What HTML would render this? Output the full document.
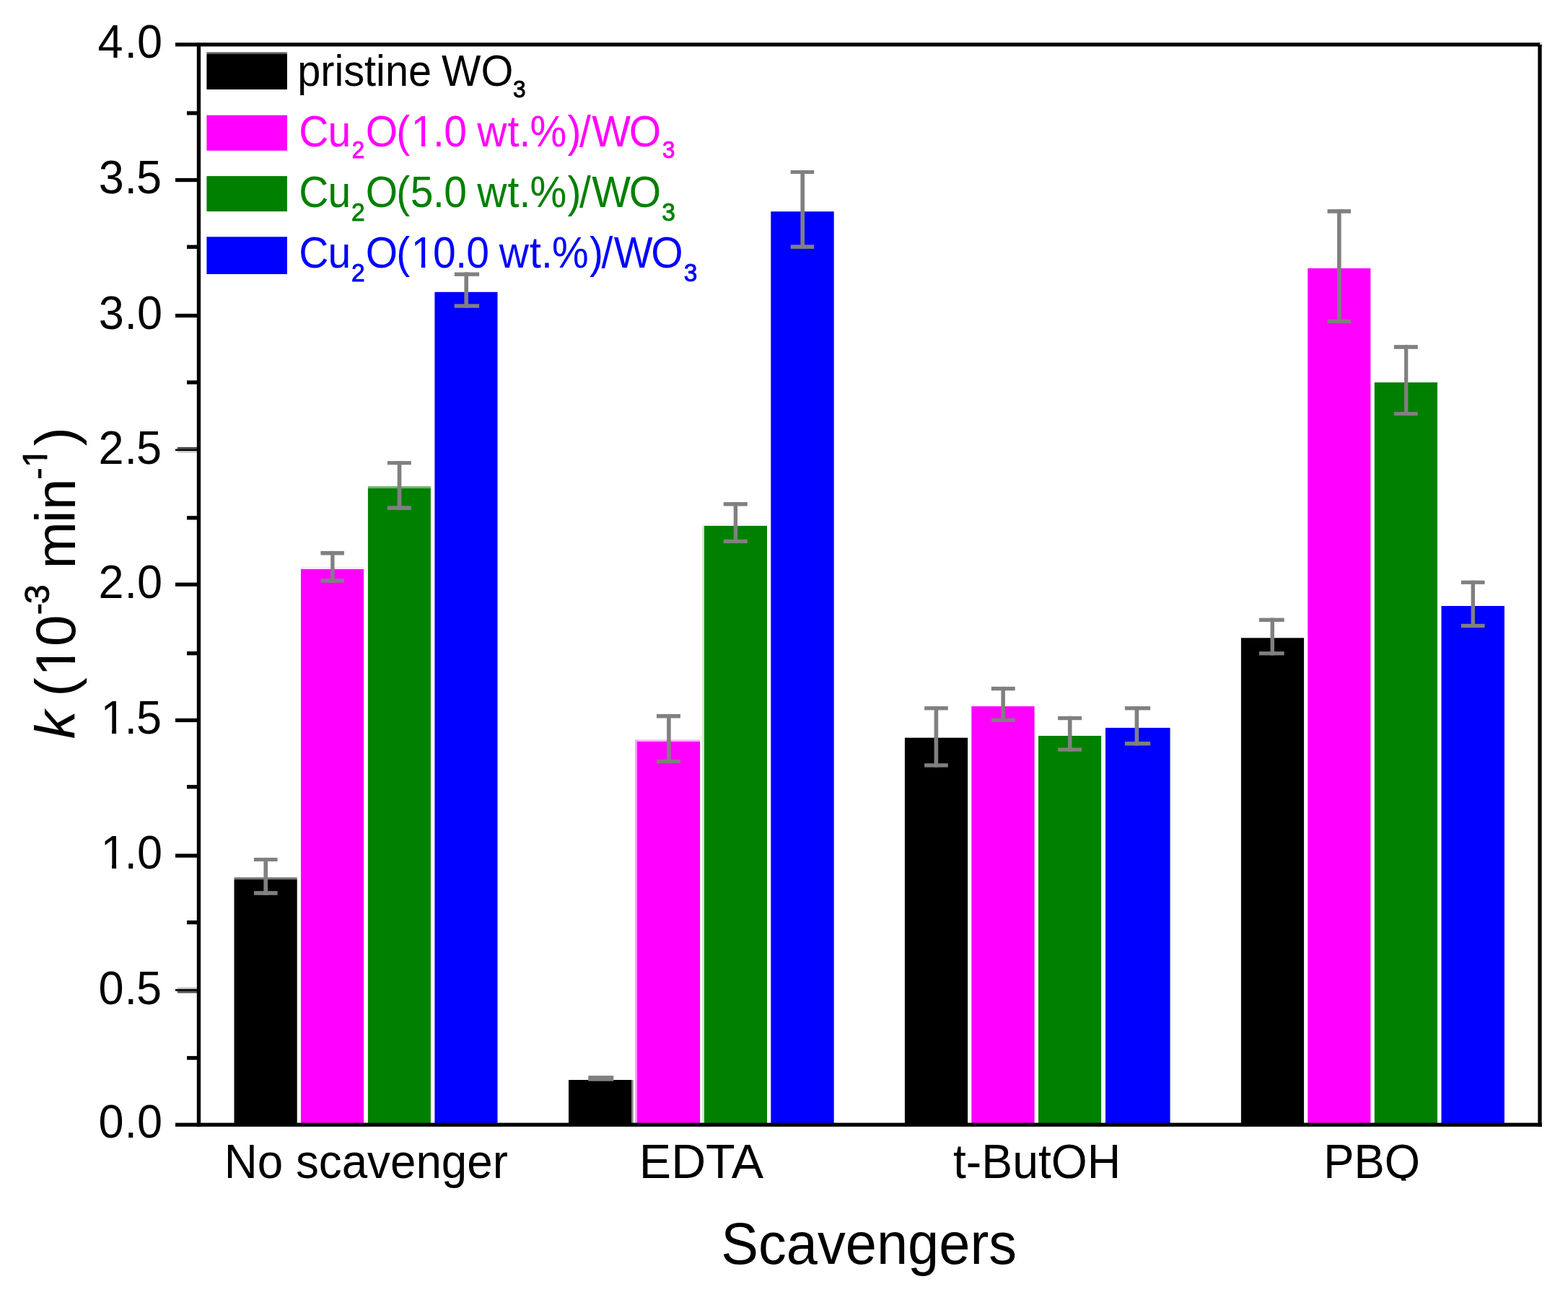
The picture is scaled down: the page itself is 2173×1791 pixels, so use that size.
<!DOCTYPE html>
<html lang="en">
<head>
<meta charset="utf-8">
<title>Scavengers – rate constants</title>
<style>
html,body{margin:0;padding:0;background:#fff;}
body{width:2173px;height:1791px;overflow:hidden;}
svg{display:block;}
text{font-family:"Liberation Sans",sans-serif;}
</style>
</head>
<body>
<svg width="2173" height="1791" viewBox="0 0 2173 1791">
<rect x="0" y="0" width="2173" height="1791" fill="#ffffff"/>

<g id="bars">
<rect x="324.5" y="1219.1" width="87.2" height="340.1" fill="#000000"/>
<rect x="417.0" y="789.0" width="87.1" height="770.2" fill="#ff00ff"/>
<rect x="509.9" y="676.9" width="87.0" height="882.3" fill="#008000"/>
<rect x="602.4" y="404.8" width="87.1" height="1154.4" fill="#0000ff"/>
<rect x="788.0" y="1497.0" width="87.0" height="62.2" fill="#000000"/>
<rect x="882.8" y="1028.0" width="87.3" height="531.2" fill="#ff00ff"/>
<rect x="975.7" y="728.8" width="87.3" height="830.4" fill="#008000"/>
<rect x="1068.3" y="293.2" width="87.4" height="1266.0" fill="#0000ff"/>
<rect x="1253.9" y="1022.7" width="87.2" height="536.5" fill="#000000"/>
<rect x="1346.3" y="979.1" width="87.3" height="580.1" fill="#ff00ff"/>
<rect x="1439.0" y="1020.0" width="87.1" height="539.2" fill="#008000"/>
<rect x="1532.0" y="1008.9" width="89.6" height="550.3" fill="#0000ff"/>
<rect x="1719.9" y="884.3" width="87.2" height="674.9" fill="#000000"/>
<rect x="1812.3" y="371.9" width="87.1" height="1187.3" fill="#ff00ff"/>
<rect x="1904.8" y="530.1" width="87.2" height="1029.1" fill="#008000"/>
<rect x="1997.5" y="840.0" width="87.4" height="719.2" fill="#0000ff"/>
<rect x="324.5" y="1216.2" width="87.2" height="2.9" fill="#787878"/>
<rect x="417.0" y="786.0" width="87.1" height="3.0" fill="#ffe6ff"/>
<rect x="509.9" y="674.1" width="87.0" height="2.8" fill="#66b366"/>
<rect x="875.0" y="1497.0" width="2.6" height="62.2" fill="#808080"/>
<rect x="880.2" y="1025.4" width="2.6" height="533.8" fill="#ff90ff"/>
<rect x="882.8" y="1025.4" width="87.3" height="2.6" fill="#ffb0ff"/>
<rect x="973.1" y="728.8" width="2.6" height="830.4" fill="#d0e8d0"/>
<rect x="973.1" y="726.3" width="89.9" height="2.5" fill="#eef6ee"/>
<rect x="286.4" y="72.3" width="111.5" height="2.7" fill="#606060"/>
</g>
<g id="errorbars">
<rect x="351.9" y="1189.0" width="32.7" height="5.1" fill="#808080"/>
<rect x="351.9" y="1235.2" width="32.7" height="5.6" fill="#808080"/>
<rect x="365.4" y="1189.0" width="5.6" height="51.8" fill="#808080"/>
<rect x="444.4" y="763.9" width="32.5" height="5.6" fill="#808080"/>
<rect x="444.4" y="802.2" width="32.5" height="5.6" fill="#808080"/>
<rect x="458.2" y="763.9" width="5.3" height="43.9" fill="#808080"/>
<rect x="536.9" y="639.1" width="32.9" height="5.2" fill="#808080"/>
<rect x="536.9" y="701.3" width="32.9" height="5.6" fill="#808080"/>
<rect x="550.7" y="639.1" width="5.6" height="67.8" fill="#808080"/>
<rect x="629.8" y="377.5" width="34.3" height="5.4" fill="#808080"/>
<rect x="629.8" y="421.4" width="34.3" height="5.4" fill="#808080"/>
<rect x="643.4" y="377.5" width="5.6" height="49.3" fill="#808080"/>
<rect x="815.2" y="1491.1" width="35.1" height="7.6" fill="#808080"/>
<rect x="910.0" y="989.9" width="32.9" height="5.6" fill="#808080"/>
<rect x="910.0" y="1052.9" width="32.9" height="5.2" fill="#808080"/>
<rect x="924.1" y="989.9" width="5.6" height="68.2" fill="#808080"/>
<rect x="1002.7" y="696.1" width="33.1" height="5.4" fill="#808080"/>
<rect x="1002.7" y="747.8" width="33.1" height="5.3" fill="#808080"/>
<rect x="1016.7" y="696.1" width="5.4" height="57.0" fill="#808080"/>
<rect x="1095.7" y="236.0" width="32.5" height="5.1" fill="#808080"/>
<rect x="1095.7" y="339.3" width="32.5" height="5.6" fill="#808080"/>
<rect x="1109.4" y="236.0" width="5.6" height="108.9" fill="#808080"/>
<rect x="1281.1" y="979.1" width="32.7" height="5.3" fill="#808080"/>
<rect x="1281.1" y="1058.2" width="32.7" height="5.4" fill="#808080"/>
<rect x="1294.6" y="979.1" width="5.6" height="84.5" fill="#808080"/>
<rect x="1373.8" y="951.9" width="32.9" height="5.4" fill="#808080"/>
<rect x="1373.8" y="995.6" width="32.9" height="5.2" fill="#808080"/>
<rect x="1387.4" y="951.9" width="5.5" height="48.9" fill="#808080"/>
<rect x="1466.1" y="992.8" width="32.9" height="5.4" fill="#808080"/>
<rect x="1466.1" y="1036.5" width="32.9" height="5.2" fill="#808080"/>
<rect x="1479.9" y="992.8" width="5.6" height="48.9" fill="#808080"/>
<rect x="1558.9" y="979.1" width="35.3" height="5.3" fill="#808080"/>
<rect x="1558.9" y="1028.1" width="35.3" height="5.4" fill="#808080"/>
<rect x="1572.6" y="979.1" width="5.6" height="54.4" fill="#808080"/>
<rect x="1745.0" y="856.6" width="34.7" height="5.4" fill="#808080"/>
<rect x="1745.0" y="903.1" width="34.7" height="5.3" fill="#808080"/>
<rect x="1760.6" y="856.6" width="5.4" height="51.8" fill="#808080"/>
<rect x="1839.6" y="290.1" width="32.5" height="5.6" fill="#808080"/>
<rect x="1839.6" y="442.9" width="32.5" height="5.2" fill="#808080"/>
<rect x="1853.1" y="290.1" width="5.6" height="158.0" fill="#808080"/>
<rect x="1931.9" y="478.2" width="32.9" height="5.6" fill="#808080"/>
<rect x="1931.9" y="571.0" width="32.9" height="5.1" fill="#808080"/>
<rect x="1946.1" y="478.2" width="5.2" height="97.9" fill="#808080"/>
<rect x="2024.9" y="804.7" width="32.7" height="5.2" fill="#808080"/>
<rect x="2024.9" y="864.8" width="32.7" height="5.3" fill="#808080"/>
<rect x="2038.6" y="804.7" width="5.4" height="65.4" fill="#808080"/>
</g>
<g id="frame">
<rect x="259.0" y="1463.9" width="16.4" height="5.3" fill="#000"/>
<rect x="246.0" y="1368.6" width="29.4" height="2.5" fill="#c4c4c4"/>
<rect x="243.0" y="1371.1" width="32.4" height="2.8" fill="#000"/>
<rect x="246.0" y="1373.9" width="29.4" height="2.8" fill="#585858"/>
<rect x="259.0" y="1276.0" width="16.4" height="5.3" fill="#000"/>
<rect x="243.0" y="1183.5" width="32.4" height="5.3" fill="#000"/>
<rect x="259.0" y="1088.1" width="16.4" height="5.3" fill="#000"/>
<rect x="243.0" y="995.8" width="32.4" height="5.3" fill="#000"/>
<rect x="259.0" y="903.0" width="16.4" height="5.3" fill="#000"/>
<rect x="243.0" y="807.6" width="32.4" height="5.3" fill="#000"/>
<rect x="259.0" y="715.2" width="16.4" height="5.3" fill="#000"/>
<rect x="246.0" y="619.8" width="29.4" height="2.6" fill="#444444"/>
<rect x="243.0" y="622.4" width="32.4" height="2.7" fill="#000"/>
<rect x="246.0" y="625.1" width="29.4" height="2.5" fill="#c8c8c8"/>
<rect x="259.0" y="527.4" width="16.4" height="5.3" fill="#000"/>
<rect x="243.0" y="434.9" width="32.4" height="5.3" fill="#000"/>
<rect x="259.0" y="339.6" width="16.4" height="5.3" fill="#000"/>
<rect x="243.0" y="246.9" width="32.4" height="5.3" fill="#000"/>
<rect x="259.0" y="154.2" width="16.4" height="5.3" fill="#000"/>
<rect x="243.0" y="59.1" width="1893.7" height="5.3" fill="#000"/>
<rect x="243.0" y="1556.5" width="1893.7" height="5.3" fill="#000"/>
<rect x="272.8" y="59.1" width="5.3" height="1502.8" fill="#000"/>
<rect x="2131.3" y="59.1" width="5.3" height="1502.8" fill="#000"/>
<rect x="2134.0" y="58.8" width="3.0" height="3.2" fill="#cfcfcf"/>
</g>
<g id="legend">
<rect x="286.4" y="75.0" width="111.5" height="49.0" fill="#000000"/>
<rect x="286.4" y="159.7" width="111.5" height="49.1" fill="#ff00ff"/>
<rect x="286.4" y="244.1" width="111.5" height="49.0" fill="#008000"/>
<rect x="286.4" y="328.3" width="111.5" height="51.7" fill="#0000ff"/>
<g transform="translate(0,118.5) scale(0.9450,1)"><text font-size="61" fill="#000000"><tspan x="436.25" y="0.0">pristine</tspan><tspan> </tspan><tspan x="647.65" y="0.0">WO</tspan><tspan x="752.39" y="16.0" font-size="33.4" stroke="#000000" stroke-width="1.0">3</tspan></text></g>
<g transform="translate(0,202.7) scale(0.9350,1)"><text font-size="61" fill="#ff00ff"><tspan x="442.95" y="0.0">C</tspan><tspan x="486.12" y="0.0">u</tspan><tspan x="521.54" y="16.0" font-size="33.4" stroke="#ff00ff" stroke-width="1.0">2</tspan><tspan x="541.87" y="0.0">O</tspan><tspan x="587.32" y="0.0">(</tspan><tspan x="609.33" y="0.0">1</tspan><tspan x="641.64" y="0.0">.</tspan><tspan x="658.06" y="0.0">0</tspan><tspan> </tspan><tspan x="707.14" y="0.0">w</tspan><tspan x="752.31" y="0.0">t</tspan><tspan x="769.60" y="0.0">.</tspan><tspan x="785.46" y="0.0">%</tspan><tspan x="841.22" y="0.0">)</tspan><tspan x="858.85" y="0.0">/</tspan><tspan x="877.34" y="0.0">W</tspan><tspan x="932.30" y="0.0">O</tspan><tspan x="981.83" y="16.0" font-size="33.4" stroke="#ff00ff" stroke-width="1.0">3</tspan></text><rect x="611.77" y="-7.32" width="12.63" height="9.15" fill="#fff"/><rect x="630.25" y="-7.32" width="11.59" height="9.15" fill="#fff"/></g>
<g transform="translate(0,287.0) scale(0.9350,1)"><text font-size="61" fill="#008000"><tspan x="442.95" y="0.0">C</tspan><tspan x="486.12" y="0.0">u</tspan><tspan x="520.85" y="18.6" font-size="35.9" stroke="#008000" stroke-width="1.0">2</tspan><tspan x="541.87" y="0.0">O</tspan><tspan x="587.32" y="0.0">(</tspan><tspan x="608.18" y="0.0">5</tspan><tspan x="641.64" y="0.0">.</tspan><tspan x="658.06" y="0.0">0</tspan><tspan> </tspan><tspan x="707.14" y="0.0">w</tspan><tspan x="752.31" y="0.0">t</tspan><tspan x="769.60" y="0.0">.</tspan><tspan x="785.46" y="0.0">%</tspan><tspan x="841.22" y="0.0">)</tspan><tspan x="858.85" y="0.0">/</tspan><tspan x="877.34" y="0.0">W</tspan><tspan x="932.30" y="0.0">O</tspan><tspan x="981.16" y="18.6" font-size="35.9" stroke="#008000" stroke-width="1.0">3</tspan></text></g>
<g transform="translate(0,371.2) scale(0.9350,1)"><text font-size="61" fill="#0000ff"><tspan x="442.95" y="0.0">C</tspan><tspan x="486.12" y="0.0">u</tspan><tspan x="520.85" y="18.6" font-size="35.9" stroke="#0000ff" stroke-width="1.0">2</tspan><tspan x="541.87" y="0.0">O</tspan><tspan x="587.32" y="0.0">(</tspan><tspan x="609.33" y="0.0">1</tspan><tspan x="641.81" y="0.0">0</tspan><tspan x="675.27" y="0.0">.</tspan><tspan x="691.22" y="0.0">0</tspan><tspan> </tspan><tspan x="739.76" y="0.0">w</tspan><tspan x="784.93" y="0.0">t</tspan><tspan x="802.23" y="0.0">.</tspan><tspan x="818.08" y="0.0">%</tspan><tspan x="873.84" y="0.0">)</tspan><tspan x="891.47" y="0.0">/</tspan><tspan x="909.96" y="0.0">W</tspan><tspan x="964.92" y="0.0">O</tspan><tspan x="1013.78" y="18.6" font-size="35.9" stroke="#0000ff" stroke-width="1.0">3</tspan></text><rect x="611.77" y="-7.32" width="12.63" height="9.15" fill="#fff"/><rect x="630.25" y="-7.32" width="11.59" height="9.15" fill="#fff"/></g>
</g>
<g id="yticks">
<g transform="translate(0,1577.1) scale(0.9700,1)"><text font-size="65" fill="#000"><tspan x="140.81" y="0.0">0</tspan><tspan x="177.95" y="0.0">.</tspan><tspan x="195.86" y="0.0">0</tspan></text></g>
<g transform="translate(0,1392.1) scale(0.9700,1)"><text font-size="65" fill="#000"><tspan x="140.81" y="0.0">0</tspan><tspan x="177.95" y="0.0">.</tspan><tspan x="194.91" y="0.0">5</tspan></text></g>
<g transform="translate(0,1204.3) scale(0.9700,1)"><text font-size="65" fill="#000"><tspan x="143.80" y="0.0">1</tspan><tspan x="177.95" y="0.0">.</tspan><tspan x="195.86" y="0.0">0</tspan></text><rect x="146.40" y="-7.80" width="13.46" height="9.75" fill="#fff"/><rect x="166.10" y="-7.80" width="12.35" height="9.75" fill="#fff"/></g>
<g transform="translate(0,1016.7) scale(0.9700,1)"><text font-size="65" fill="#000"><tspan x="143.80" y="0.0">1</tspan><tspan x="177.95" y="0.0">.</tspan><tspan x="194.91" y="0.0">5</tspan></text><rect x="146.40" y="-7.80" width="13.46" height="9.75" fill="#fff"/><rect x="166.10" y="-7.80" width="12.35" height="9.75" fill="#fff"/></g>
<g transform="translate(0,829.1) scale(0.9700,1)"><text font-size="65" fill="#000"><tspan x="140.80" y="0.0">2</tspan><tspan x="177.95" y="0.0">.</tspan><tspan x="195.86" y="0.0">0</tspan></text></g>
<g transform="translate(0,643.1) scale(0.9700,1)"><text font-size="65" fill="#000"><tspan x="140.80" y="0.0">2</tspan><tspan x="177.95" y="0.0">.</tspan><tspan x="194.91" y="0.0">5</tspan></text></g>
<g transform="translate(0,455.8) scale(0.9700,1)"><text font-size="65" fill="#000"><tspan x="140.92" y="0.0">3</tspan><tspan x="177.95" y="0.0">.</tspan><tspan x="195.86" y="0.0">0</tspan></text></g>
<g transform="translate(0,267.9) scale(0.9700,1)"><text font-size="65" fill="#000"><tspan x="140.92" y="0.0">3</tspan><tspan x="177.95" y="0.0">.</tspan><tspan x="194.91" y="0.0">5</tspan></text></g>
<g transform="translate(0,79.8) scale(0.9700,1)"><text font-size="65" fill="#000"><tspan x="139.62" y="0.0">4</tspan><tspan x="177.95" y="0.0">.</tspan><tspan x="195.86" y="0.0">0</tspan></text></g>
</g>
<g id="xcats">
<text transform="translate(310.77,1632.50) scale(0.9514,1)" font-size="67.00" fill="#000">No scavenger</text>
<text transform="translate(885.81,1632.50) scale(0.9917,1)" font-size="67.00" fill="#000">EDTA</text>
<text transform="translate(1320.95,1632.50) scale(0.9604,1)" font-size="67.00" fill="#000">t-ButOH</text>
<text transform="translate(1834.31,1632.50) scale(0.9462,1)" font-size="67.00" fill="#000">PBQ</text>
<rect x="1915.0" y="1636.6" width="57.0" height="15.4" fill="#fff"/>
</g>
<text transform="translate(999.31,1751.73) scale(0.9530,1)" font-size="81.44" fill="#000">Scavengers</text>
<g transform="translate(103.9,0) rotate(-90) scale(1.0000,1)"><text font-size="78.5" fill="#000"><tspan x="-1024.34" y="0.0" font-style="italic">k</tspan><tspan> </tspan><tspan x="-965.58" y="0.0">(</tspan><tspan x="-937.65" y="0.0">1</tspan><tspan x="-895.93" y="0.0">0</tspan><tspan x="-852.32" y="-36.3" font-size="48.5" stroke="#000" stroke-width="0.8">-</tspan><tspan x="-837.20" y="-36.3" font-size="48.5" stroke="#000" stroke-width="0.8">3</tspan><tspan> </tspan><tspan x="-788.56" y="0.0">m</tspan><tspan x="-725.06" y="0.0">i</tspan><tspan x="-707.08" y="0.0">n</tspan><tspan x="-664.82" y="-36.3" font-size="48.5" stroke="#000" stroke-width="0.8">-</tspan><tspan x="-648.09" y="-38.7" font-size="48.5" stroke="#000" stroke-width="0.8">1</tspan><tspan x="-618.34" y="0.0">)</tspan></text><rect x="-934.51" y="-9.42" width="16.25" height="11.78" fill="#fff"/><rect x="-910.73" y="-9.42" width="14.92" height="11.78" fill="#fff"/><rect x="-646.55" y="-44.52" width="10.04" height="7.67" fill="#fff"/><rect x="-631.05" y="-44.52" width="9.62" height="7.67" fill="#fff"/></g>
</svg>
</body>
</html>
